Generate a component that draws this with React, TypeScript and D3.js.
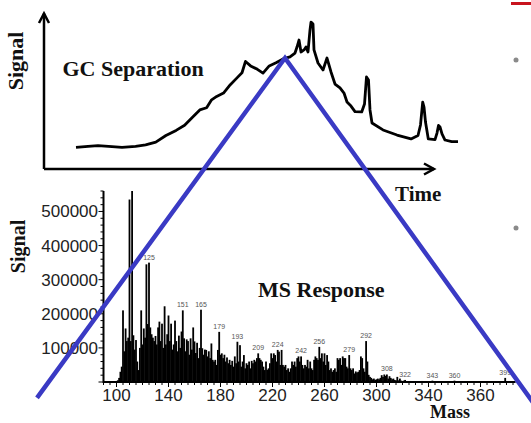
import * as d3 from 'd3';
import { useEffect, useRef } from 'react';

// GC chromatogram: [retention time (min), signal (% of max)]
const gcTrace: Array<[number, number]> = [
  [3.2, 14.0], [4.4, 14.6], [5.4, 15.1], [6.8, 14.5], [7.8, 14.0], [9.15, 14.6],
  [10.16, 15.5], [11.18, 17.3], [12.19, 21.6], [13.21, 24.9], [14.06, 28.2], [14.9, 33.7],
  [15.58, 38.1], [16.26, 39.5], [16.76, 44.6], [17.27, 46.8], [17.95, 49.0], [18.63, 54.4],
  [19.3, 58.8], [19.8, 62.1], [20.15, 69.4], [20.66, 66.5], [21.34, 64.3], [21.9, 61.9],
  [22.52, 66.5], [23.2, 68.6], [23.9, 71.0], [24.6, 72.3], [25.1, 74.8], [25.3, 78.7],
  [25.5, 83.2], [25.7, 75.5], [26.0, 76.8], [26.2, 78.7], [26.4, 75.5], [26.6, 89.7],
  [26.7, 94.8], [26.9, 93.5], [27.0, 76.8], [27.4, 68.4], [27.9, 63.9], [28.3, 71.6],
  [28.7, 62.6], [29.1, 54.8], [29.6, 52.3], [30.0, 49.0], [30.3, 43.2], [30.7, 40.6],
  [31.1, 37.0], [31.77, 36.8], [32.05, 41.9], [32.25, 59.4], [32.45, 57.4], [32.6, 38.1],
  [32.8, 29.7], [33.9, 25.2], [35.3, 21.9], [36.7, 19.4], [37.4, 21.6], [37.65, 28.4],
  [37.87, 43.2], [38.0, 40.0], [38.15, 30.3], [38.43, 19.4], [39.1, 19.0], [39.3, 23.2],
  [39.45, 28.1], [39.6, 27.1], [39.8, 22.6], [40.1, 18.7], [40.77, 17.6], [41.4, 17.6],
];

// highlight wedge drawn in GC units: [time, signal]
const wedge: Array<[number, number]> = [[-0.7, -147.7], [24.1, 71.6], [50.1, -161.3]];

// mass spectrum: intensity (x1000) for every mass from msStart
const msStart = 100;
const msIntensity = [
  3, 5, 12, 30, 45, 210, 90, 157, 120, 130,
  535, 120, 560, 137, 95, 123, 60, 35, 100, 210,
  110, 157, 130, 345, 170, 350, 160, 140, 130, 120,
  135, 110, 160, 177, 120, 171, 100, 222, 110, 140,
  195, 120, 171, 95, 110, 180, 120, 90, 136, 100,
  148, 210, 128, 90, 125, 120, 80, 128, 95, 160,
  119, 85, 115, 70, 100, 212, 99, 80, 95, 94,
  75, 90, 70, 113, 65, 60, 65, 50, 94, 147,
  80, 84, 70, 80, 60, 72, 55, 65, 50, 62,
  45, 75, 55, 118, 60, 108, 45, 60, 79, 40,
  55, 50, 60, 40, 62, 55, 65, 60, 70, 84,
  70, 65, 60, 45, 35, 60, 36, 40, 55, 84,
  70, 84, 79, 60, 94, 89, 50, 94, 50, 45,
  50, 35, 40, 30, 40, 60, 50, 60, 45, 70,
  75, 60, 75, 50, 40, 50, 45, 65, 40, 60,
  40, 35, 65, 75, 70, 65, 103, 70, 84, 60,
  84, 50, 79, 60, 35, 40, 30, 35, 40, 30,
  70, 65, 70, 50, 75, 70, 70, 45, 40, 79,
  40, 35, 40, 25, 31, 28, 30, 35, 75, 70,
  40, 30, 120, 60, 21, 15, 12, 8, 10, 6,
  8, 10, 8, 12, 20, 15, 22, 18, 22, 10,
  17, 12, 8, 10, 6, 5, 15, 5, 10, 4,
  3, 4, 6,
];
const msTail: Array<[number, number]> = [
  [326, 3], [330, 2], [335, 3], [343, 4], [350, 2], [360, 4], [372, 2], [399, 12],
];
const peakLabels = [125, 151, 165, 179, 193, 209, 224, 242, 256, 279, 292, 308, 322, 343, 360, 399];

const massTicks = [100, 140, 180, 220, 260, 300, 340, 380];
const massTickLabels = ['100', '140', '180', '220', '260', '300', '340', '360'];
const signalTicks = [100000, 200000, 300000, 400000, 500000];

export default function App() {
  const ref = useRef<SVGSVGElement>(null);
  const width = 531;
  const height = 423;

  useEffect(() => {
    if (!ref.current) return;
    const svg = d3.select(ref.current);
    svg.selectAll('*').remove();

    svg.append('rect').attr('width', width).attr('height', height).attr('fill', '#fff');

    const serif = "'Liberation Serif', 'Times New Roman', serif";
    const sans = "'Liberation Sans', Arial, sans-serif";

    // ---- GC panel
    const xT = d3.scaleLinear().domain([0, 39]).range([44, 434]);
    const yG = d3.scaleLinear().domain([0, 100]).range([169, 14]);

    const gc = svg.append('g');
    gc.append('path')
      .attr('d', `M${xT(0)},${yG(0)}V${yG(100) - 0.5}M${xT(0)},${yG(0)}H${xT(39)}`)
      .attr('stroke', '#000')
      .attr('stroke-width', 2.5)
      .attr('fill', 'none');
    // arrow heads
    gc.append('path')
      .attr('d', `M${xT(0) - 5},${yG(100) + 9}L${xT(0)},${yG(100) - 0.5}L${xT(0) + 5},${yG(100) + 9}`)
      .attr('stroke', '#000')
      .attr('stroke-width', 2.5)
      .attr('fill', 'none');
    gc.append('path')
      .attr('d', `M${xT(39) - 10},${yG(0) - 5.5}L${xT(39)},${yG(0)}L${xT(39) - 10},${yG(0) + 5.5}`)
      .attr('stroke', '#000')
      .attr('stroke-width', 2.5)
      .attr('fill', 'none');

    const line = d3
      .line<[number, number]>()
      .x((d) => xT(d[0]))
      .y((d) => yG(d[1]));
    gc.append('path')
      .datum(gcTrace)
      .attr('d', line)
      .attr('fill', 'none')
      .attr('stroke', '#000')
      .attr('stroke-width', 2.8)
      .attr('stroke-linejoin', 'round');

    gc.append('text')
      .attr('x', 62.5)
      .attr('y', 76)
      .attr('font-family', serif)
      .attr('font-weight', 'bold')
      .attr('font-size', 22)
      .attr('fill', '#111')
      .text('GC Separation');
    gc.append('text')
      .attr('transform', 'translate(23,61) rotate(-90)')
      .attr('text-anchor', 'middle')
      .attr('font-family', serif)
      .attr('font-weight', 'bold')
      .attr('font-size', 22)
      .attr('fill', '#111')
      .text('Signal');
    gc.append('text')
      .attr('x', 395)
      .attr('y', 200.5)
      .attr('font-family', serif)
      .attr('font-weight', 'bold')
      .attr('font-size', 21)
      .attr('fill', '#111')
      .text('Time');

    // ---- MS panel
    const xM = d3.scaleLinear().domain([90, 407]).range([103.5, 515.6]);
    const yM = d3.scaleLinear().domain([0, 560000]).range([382, 191]);

    const ms = svg.append('g');
    const bars: Array<[number, number]> = msIntensity
      .map((v, i) => [msStart + i, v * 1000] as [number, number])
      .concat(msTail.map(([m, v]) => [m, v * 1000] as [number, number]));

    ms.append('g')
      .selectAll('rect')
      .data(bars)
      .join('rect')
      .attr('x', (d) => xM(d[0]) - 0.9)
      .attr('width', 1.8)
      .attr('y', (d) => yM(d[1]))
      .attr('height', (d) => yM(0) - yM(d[1]))
      .attr('fill', '#000');

    const valueOf = (m: number) => {
      const found = bars.find((b) => b[0] === m);
      return found ? found[1] : 0;
    };
    ms.append('g')
      .style('opacity', 0.99)
      .selectAll('text')
      .data(peakLabels)
      .join('text')
      .attr('x', (d) => xM(d))
      .attr('y', (d) => yM(valueOf(d)) - 3)
      .attr('text-anchor', 'middle')
      .attr('font-family', sans)
      .attr('font-size', 7)
      .attr('fill', '#555')
      .text((d) => String(d));

    // axes
    ms.append('path')
      .attr('d', `M${xM(90)},${yM(560000)}V${yM(0)}H${xM(407)}`)
      .attr('stroke', '#000')
      .attr('stroke-width', 2)
      .attr('fill', 'none');

    const minorMass = d3.range(90, 406, 5);
    ms.append('g')
      .selectAll('line')
      .data(minorMass)
      .join('line')
      .attr('x1', (d) => xM(d))
      .attr('x2', (d) => xM(d))
      .attr('y1', yM(0))
      .attr('y2', (d) => yM(0) + (massTicks.includes(d) ? 5 : 3))
      .attr('stroke', '#000')
      .attr('stroke-width', 1);

    const minorSig = d3.range(0, 560001, 20000);
    ms.append('g')
      .selectAll('line')
      .data(minorSig)
      .join('line')
      .attr('x1', xM(90))
      .attr('x2', (d) => xM(90) - (d % 100000 === 0 ? 5 : 3))
      .attr('y1', (d) => yM(d))
      .attr('y2', (d) => yM(d))
      .attr('stroke', '#000')
      .attr('stroke-width', 1);

    ms.append('g')
      .selectAll('text')
      .data(massTicks)
      .join('text')
      .attr('x', (d) => xM(d))
      .attr('y', 400.5)
      .attr('text-anchor', 'middle')
      .attr('font-family', sans)
      .attr('font-size', 17)
      .attr('fill', '#222')
      .text((d, i) => massTickLabels[i]);

    ms.append('g')
      .selectAll('text')
      .data(signalTicks)
      .join('text')
      .attr('x', 98)
      .attr('y', (d) => yM(d) + 6)
      .attr('text-anchor', 'end')
      .attr('font-family', sans)
      .attr('font-size', 17)
      .attr('fill', '#222')
      .text((d) => String(d));

    ms.append('text')
      .attr('transform', 'translate(25,246.5) rotate(-90)')
      .attr('text-anchor', 'middle')
      .attr('font-family', serif)
      .attr('font-weight', 'bold')
      .attr('font-size', 20)
      .attr('fill', '#111')
      .text('Signal');
    ms.append('text')
      .attr('x', 258)
      .attr('y', 296.5)
      .attr('font-family', serif)
      .attr('font-weight', 'bold')
      .attr('font-size', 22)
      .attr('fill', '#111')
      .text('MS Response');
    ms.append('text')
      .attr('x', 430)
      .attr('y', 418)
      .attr('font-family', serif)
      .attr('font-weight', 'bold')
      .attr('font-size', 18)
      .attr('fill', '#111')
      .text('Mass');

    // ---- blue wedge overlay
    svg.append('path')
      .datum(wedge)
      .attr('d', d3.line<[number, number]>().x((d) => xT(d[0])).y((d) => yG(d[1])))
      .attr('fill', 'none')
      .attr('stroke', '#3a3ac4')
      .attr('stroke-width', 4.5)
      .attr('stroke-linejoin', 'miter');

    // slide decorations
    svg.append('line')
      .attr('x1', 511).attr('x2', width)
      .attr('y1', 3.5).attr('y2', 3.5)
      .attr('stroke', '#c8141e')
      .attr('stroke-width', 3);
    svg.append('g')
      .selectAll('circle')
      .data([60, 228])
      .join('circle')
      .attr('cx', 516)
      .attr('cy', (d) => d)
      .attr('r', 2.5)
      .attr('fill', '#8a8a8a');
  }, []);

  return (
    <svg
      ref={ref}
      width={width}
      height={height}
      style={{ position: 'absolute', left: 0, top: 0, display: 'block' }}
    />
  );
}
